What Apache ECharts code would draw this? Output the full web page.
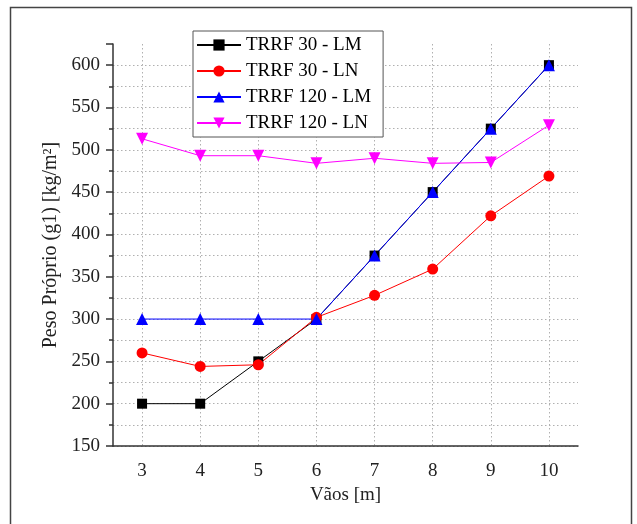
<!DOCTYPE html>
<html>
<head>
<meta charset="utf-8">
<script src="https://cdn.jsdelivr.net/npm/echarts@6/dist/echarts.min.js"></script>
<style>html,body{margin:0;padding:0;background:#fff}#c{width:637px;height:524px}</style>
</head>
<body>
<div id="c"></div>
<script>
const categories = ['3', '4', '5', '6', '7', '8', '9', '10'];
const trrf30LM = [200, 200, 250, 300, 375, 450, 525, 600];
const trrf30LN = [260, 244, 246, 302, 328, 359, 422, 469];
const trrf120LM = [300, 300, 300, 300, 375, 450, 525, 600];
const trrf120LN = [513, 493, 493, 484, 490, 484, 485, 529];
const seriesNames = ['TRRF 30 - LM', 'TRRF 30 - LN', 'TRRF 120 - LM', 'TRRF 120 - LN'];

const font = 'Liberation Serif';
const chart = echarts.init(document.getElementById('c'), null, {renderer: 'canvas'});
const grid = {color: '#b0b0b0', type: [1.5, 2.5], width: 1};
function mk(name, data, color, symbol, size, rotate) {
  return {
    name, type: 'line', data, symbol, symbolSize: size, symbolRotate: rotate || 0,
    lineStyle: {color, width: 1}, itemStyle: {color}, animation: false
  };
}
chart.setOption({
  backgroundColor: '#fff',
  animation: false,
  graphic: [{
    type: 'rect', shape: {x: 10.5, y: 7.5, width: 621, height: 600},
    style: {fill: 'none', stroke: '#444', lineWidth: 1.5}, silent: true
  }],
  grid: {left: 113, top: 44, right: 59, bottom: 78},
  legend: {
    orient: 'vertical', left: 193, top: 31,
    padding: [4, 12, 4, 3], itemGap: 6, itemWidth: 44, itemHeight: 14,
    borderColor: '#555', borderWidth: 1, backgroundColor: '#fff',
    textStyle: {fontFamily: font, fontSize: 19, color: '#000', lineHeight: 20},
    data: seriesNames
  },
  xAxis: {
    type: 'category', data: categories, boundaryGap: true,
    name: 'Vãos [m]', nameLocation: 'middle', nameGap: 36,
    nameTextStyle: {fontFamily: font, fontSize: 19, color: '#222'},
    axisLine: {lineStyle: {color: '#333', width: 1.5}},
    axisTick: {alignWithLabel: true, length: 6, lineStyle: {color: '#333', width: 1.5}},
    axisLabel: {fontFamily: font, fontSize: 19, color: '#222', margin: 16},
    splitLine: {show: true, alignWithLabel: true, lineStyle: grid}
  },
  yAxis: {
    type: 'value', min: 150, max: 625, interval: 50,
    name: 'Peso Próprio (g1) [kg/m²]', nameLocation: 'middle', nameGap: 44,
    nameTextStyle: {fontFamily: font, fontSize: 20, color: '#222'},
    axisLine: {show: true, lineStyle: {color: '#333', width: 1.5}},
    axisTick: {show: true, length: 7, lineStyle: {color: '#333', width: 1.5}},
    minorTick: {show: true, splitNumber: 2, length: 4, lineStyle: {color: '#333', width: 1.5}},
    axisLabel: {fontFamily: font, fontSize: 19, color: '#222', margin: 13, showMaxLabel: false,
      formatter: v => (v % 50 === 0 ? String(v) : '')},
    splitLine: {show: true, showMaxLine: false, lineStyle: grid},
    minorSplitLine: {show: true, lineStyle: grid}
  },
  series: [
    mk(seriesNames[0], trrf30LM, '#000000', 'rect', 10),
    mk(seriesNames[1], trrf30LN, '#ff0000', 'circle', 11),
    mk(seriesNames[2], trrf120LM, '#0000ff', 'triangle', 12),
    mk(seriesNames[3], trrf120LN, '#ff00ff', 'triangle', 12, 180)
  ]
});
</script>
</body>
</html>
